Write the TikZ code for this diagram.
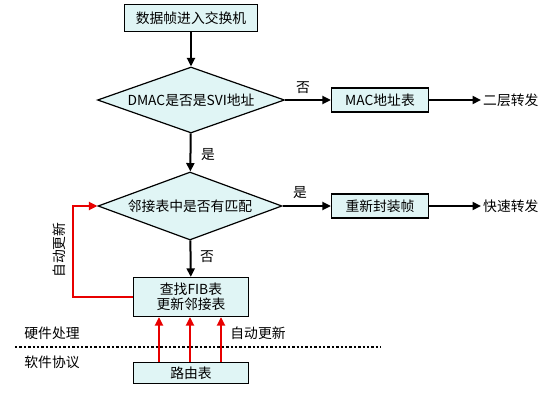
\documentclass[tikz,border=0pt]{standalone}
\usepackage{xcolor}
\usepackage{fontspec}
\setmainfont{Noto Sans CJK SC}
\usepackage{tikz}
\usetikzlibrary{shapes,arrows.meta,positioning}
\definecolor{boxfill}{RGB}{224,245,245}
\definecolor{updred}{RGB}{232,0,0}

\begin{document}
\begin{tikzpicture}[
    x=1pt, y=1pt,
    font=\fontsize{13.8}{16}\selectfont,
    box/.style={rectangle, draw, line width=1.2pt, fill=boxfill, inner sep=0pt, minimum width=97pt, minimum height=24pt},
    decision/.style={diamond, draw, line width=1.2pt, fill=boxfill, inner sep=0pt, aspect=2.8},
    flow/.style={-{Triangle[length=8.5pt,width=8pt]}, line width=2pt},
    upd/.style={flow, color=updred}]
    \useasboundingbox (0,0) rectangle (546,400);
    % main path
    \node[box, minimum width=133pt, minimum height=27pt] (start) at (191,382) {数据帧进入交换机};
    \node[decision, minimum width=187pt, minimum height=66pt] (svi) at (191,300) {DMAC是否是SVI地址};
    \node[box] (mac) at (380,300) {MAC地址表};
    \node[anchor=west, inner sep=2pt] (l2fwd) at (481,300) {二层转发};
    \node[decision, minimum width=184pt, minimum height=68pt] (adj) at (190,194) {邻接表中是否有匹配};
    \node[box] (reenc) at (380,194) {重新封装帧};
    \node[anchor=west, inner sep=2pt] (fastfwd) at (481,194) {快速转发};
    \node[box, minimum width=115pt, minimum height=39pt, align=center, font=\fontsize{13.8}{15.5}\selectfont] (fib) at (191,103) {查找FIB表\\更新邻接表};
    \node[box, minimum width=115pt, minimum height=21pt] (route) at (191,27) {路由表};
    % labels
    \node (no1) at (303,312) {否};
    \node (yes1) at (208,245) {是};
    \node (yes2) at (300,207) {是};
    \node (no2) at (207,143) {否};
    \node (hw) at (52,67) {硬件处理};
    \node (sw) at (52,38) {软件协议};
    \node (autoright) at (258,67) {自动更新};
    \node[rotate=90] (autoleft) at (59,150) {自动更新};
    % divider
    \coordinate (divl) at (15,53);
    \coordinate (divr) at (381,53);
    \draw[line width=2.4pt, dash pattern=on 2.4pt off 2pt] (divl) -- (divr);
    % connectors
    \draw[flow] (start) -- (svi);
    \draw[flow] (svi) -- (mac);
    \draw[flow] (mac) -- (l2fwd);
    \draw[flow] (svi) -- (adj);
    \draw[flow] (adj) -- (reenc);
    \draw[flow] (reenc) -- (fastfwd);
    \draw[flow] (adj) -- (fib);
    \draw[upd] (fib.west) -- ++(-60,0) |- (adj.west);
    \foreach \dx in {-32,-1,30}
        \draw[upd] ([xshift=\dx pt]route.north) -- ([xshift=\dx pt]fib.south);
\end{tikzpicture}
\end{document}
